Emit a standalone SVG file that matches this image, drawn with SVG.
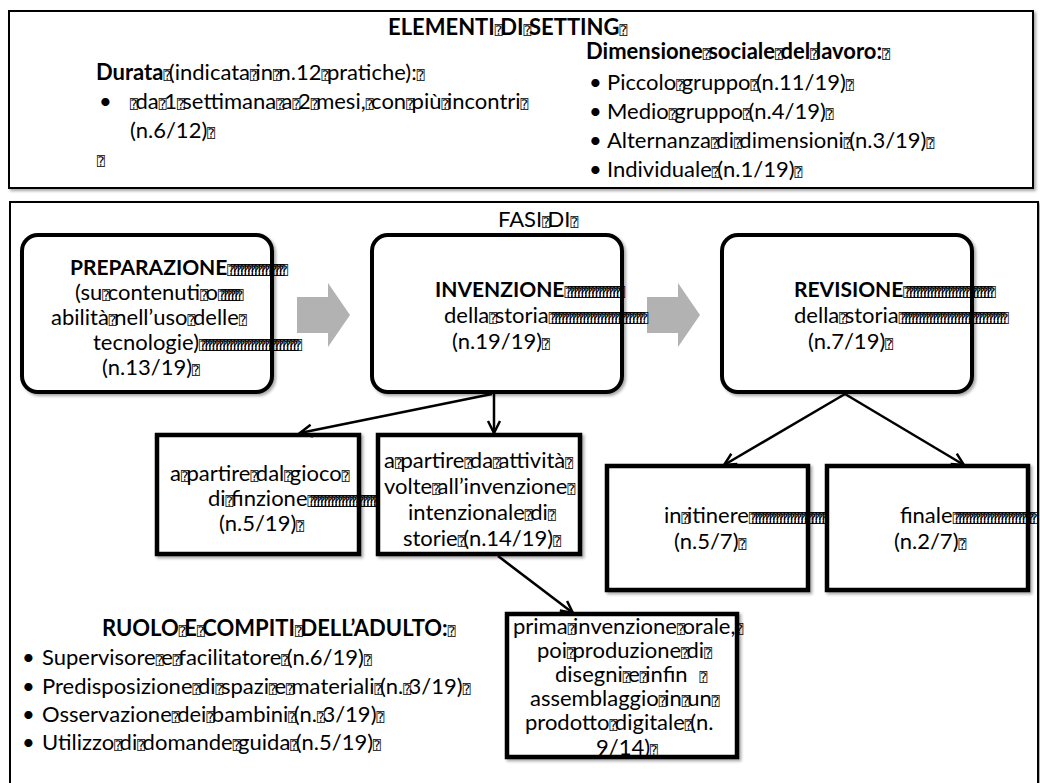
<svg xmlns="http://www.w3.org/2000/svg" width="1040" height="783" viewBox="0 0 1040 783">
<defs>
<style>
.t{font-family:Lato,"Open Sans",sans-serif;font-size:22px;fill:#000}
.b{font-weight:bold}
.nb{font-weight:bold;font-size:21px}
.q{font-family:"DejaVu Sans Mono",monospace;font-size:13px;letter-spacing:-2.4px;font-weight:normal}
.qr{font-family:"DejaVu Sans Mono",monospace;font-size:13px;letter-spacing:-4.3px;font-weight:normal}
.frame{fill:#fff;stroke:#000;stroke-width:2}
.rnode{fill:#fff;stroke:#000;stroke-width:4}
.snode{fill:#fff;stroke:#000;stroke-width:4.5}
.conn{stroke:#000;stroke-width:2.5;fill:none;marker-end:url(#ah)}
.garrow{fill:#b2b2b2}
</style>
<marker id="ah" markerUnits="userSpaceOnUse" markerWidth="16" markerHeight="16" viewBox="0 0 16 16" refX="14" refY="8" orient="auto">
<path d="M2,2 L14,8 L2,14" fill="none" stroke="#000" stroke-width="2.5"/>
</marker>
<filter id="sh" x="-10%" y="-10%" width="120%" height="120%">
<feDropShadow dx="2" dy="2" stdDeviation="1.5" flood-color="#000" flood-opacity="0.35"/>
</filter>
</defs>

<g id="setting">
<rect class="frame" x="9" y="11" width="1024" height="177" filter="url(#sh)"/>
<text class="t b" x="388" y="35">ELEMENTI<tspan class="q">⍰</tspan>DI<tspan class="q">⍰</tspan>SETTING<tspan class="q">⍰</tspan></text>
<text class="t" x="96" y="80"><tspan class="b">Durata</tspan><tspan class="q">⍰</tspan>(indicata<tspan class="q">⍰</tspan>in<tspan class="q">⍰</tspan>n.12<tspan class="q">⍰</tspan>pratiche):<tspan class="q">⍰</tspan></text>
<text class="t" x="99" y="109">•</text>
<text class="t" x="130" y="109"><tspan class="q">⍰</tspan>da<tspan class="q">⍰</tspan>1<tspan class="q">⍰</tspan>settimana<tspan class="q">⍰</tspan>a<tspan class="q">⍰</tspan>2<tspan class="q">⍰</tspan>mesi,<tspan class="q">⍰</tspan>con<tspan class="q">⍰</tspan>più<tspan class="q">⍰</tspan>incontri<tspan class="q">⍰</tspan></text>
<text class="t" x="130" y="138">(n.6/12)<tspan class="q">⍰</tspan></text>
<text class="t" x="97" y="166"><tspan class="q">⍰</tspan></text>
<text class="t b" x="586" y="59">Dimensione<tspan class="q">⍰</tspan>sociale<tspan class="q">⍰</tspan>del<tspan class="q">⍰</tspan>lavoro:<tspan class="q">⍰</tspan></text>
<text class="t" x="589" y="90">•</text>
<text class="t" x="607" y="90">Piccolo<tspan class="q">⍰</tspan>gruppo<tspan class="q">⍰</tspan>(n.11/19)<tspan class="q">⍰</tspan></text>
<text class="t" x="589" y="119">•</text>
<text class="t" x="607" y="119">Medio<tspan class="q">⍰</tspan>gruppo<tspan class="q">⍰</tspan>(n.4/19)<tspan class="q">⍰</tspan></text>
<text class="t" x="589" y="148">•</text>
<text class="t" x="607" y="148">Alternanza<tspan class="q">⍰</tspan>di<tspan class="q">⍰</tspan>dimensioni<tspan class="q">⍰</tspan>(n.3/19)<tspan class="q">⍰</tspan></text>
<text class="t" x="589" y="177">•</text>
<text class="t" x="607" y="177">Individuale<tspan class="q">⍰</tspan>(n.1/19)<tspan class="q">⍰</tspan></text>
</g>

<g id="fasi">
<rect class="frame" x="10" y="202" width="1028" height="590" filter="url(#sh)"/>
<text class="t" x="498" y="227">FASI<tspan class="q">⍰</tspan>DI<tspan class="q">⍰</tspan></text>
</g>

<g id="arrows-gray">
<path class="garrow" d="M297,297 H328 V283 L350,315 L328,347 V333 H297 Z"/>
<path class="garrow" d="M647,297 H678 V283 L700,315 L678,347 V333 H647 Z"/>
</g>

<g id="preparazione">
<rect class="rnode" x="22" y="235" width="250" height="157" rx="16" filter="url(#sh)"/>
<text class="t" x="70" y="275"><tspan class="nb">PREPARAZIONE</tspan><tspan class="qr">⍰⍰⍰⍰⍰⍰⍰⍰⍰⍰⍰⍰⍰⍰⍰⍰</tspan></text>
<text class="t" x="75" y="300">(su<tspan class="q">⍰</tspan>contenuti<tspan class="q">⍰</tspan>o<tspan class="qr">⍰⍰⍰⍰⍰⍰</tspan></text>
<text class="t" x="51" y="325">abilità<tspan class="q">⍰</tspan>nell’uso<tspan class="q">⍰</tspan>delle<tspan class="q">⍰</tspan></text>
<text class="t" x="93" y="350">tecnologie)<tspan class="qr">⍰⍰⍰⍰⍰⍰⍰⍰⍰⍰⍰⍰⍰⍰⍰⍰⍰⍰⍰⍰⍰⍰⍰⍰⍰⍰⍰⍰</tspan></text>
<text class="t" x="102" y="375">(n.13/19)<tspan class="q">⍰</tspan></text>
</g>

<g id="invenzione">
<rect class="rnode" x="372" y="235" width="250" height="157" rx="16" filter="url(#sh)"/>
<text class="t" x="435" y="297"><tspan class="nb">INVENZIONE</tspan><tspan class="qr">⍰⍰⍰⍰⍰⍰⍰⍰⍰⍰⍰⍰⍰⍰⍰⍰</tspan></text>
<text class="t" x="444" y="323">della<tspan class="q">⍰</tspan>storia<tspan class="qr">⍰⍰⍰⍰⍰⍰⍰⍰⍰⍰⍰⍰⍰⍰⍰⍰⍰⍰⍰⍰⍰⍰⍰⍰⍰⍰⍰</tspan></text>
<text class="t" x="452" y="349">(n.19/19)<tspan class="q">⍰</tspan></text>
</g>

<g id="revisione">
<rect class="rnode" x="722" y="235" width="250" height="157" rx="16" filter="url(#sh)"/>
<text class="t" x="794" y="297"><tspan class="nb">REVISIONE</tspan><tspan class="qr">⍰⍰⍰⍰⍰⍰⍰⍰⍰⍰⍰⍰⍰⍰⍰⍰⍰⍰⍰⍰⍰⍰⍰⍰⍰</tspan></text>
<text class="t" x="794" y="323">della<tspan class="q">⍰</tspan>storia<tspan class="qr">⍰⍰⍰⍰⍰⍰⍰⍰⍰⍰⍰⍰⍰⍰⍰⍰⍰⍰⍰⍰⍰⍰⍰⍰⍰⍰⍰⍰⍰⍰</tspan></text>
<text class="t" x="808" y="349">(n.7/19)<tspan class="q">⍰</tspan></text>
</g>

<g id="gioco">
<rect class="snode" x="157" y="435" width="202" height="119" filter="url(#sh)"/>
<text class="t" x="170" y="481">a<tspan class="q">⍰</tspan>partire<tspan class="q">⍰</tspan>dal<tspan class="q">⍰</tspan>gioco<tspan class="q">⍰</tspan></text>
<text class="t" x="208" y="506">di<tspan class="q">⍰</tspan>finzione<tspan class="qr">⍰⍰⍰⍰⍰⍰⍰⍰⍰⍰⍰⍰⍰⍰⍰⍰⍰⍰⍰⍰</tspan></text>
<text class="t" x="219" y="531">(n.5/19)<tspan class="q">⍰</tspan></text>
</g>

<g id="attivita">
<rect class="snode" x="378" y="435" width="202" height="119" filter="url(#sh)"/>
<text class="t" x="384" y="468">a<tspan class="q">⍰</tspan>partire<tspan class="q">⍰</tspan>da<tspan class="q">⍰</tspan>attività<tspan class="q">⍰</tspan></text>
<text class="t" x="384" y="494">volte<tspan class="q">⍰</tspan>all’invenzione<tspan class="q">⍰</tspan></text>
<text class="t" x="408" y="520">intenzionale<tspan class="q">⍰</tspan>di<tspan class="q">⍰</tspan></text>
<text class="t" x="403" y="546">storie<tspan class="q">⍰</tspan>(n.14/19)<tspan class="q">⍰</tspan></text>
</g>

<g id="itinere">
<rect class="snode" x="607" y="466" width="201" height="124" filter="url(#sh)"/>
<text class="t" x="664" y="523">in<tspan class="q">⍰</tspan>itinere<tspan class="qr">⍰⍰⍰⍰⍰⍰⍰⍰⍰⍰⍰⍰⍰⍰⍰⍰⍰⍰⍰⍰⍰⍰</tspan></text>
<text class="t" x="674" y="549">(n.5/7)<tspan class="q">⍰</tspan></text>
</g>

<g id="finale">
<rect class="snode" x="827" y="466" width="201" height="124" filter="url(#sh)"/>
<text class="t" x="900" y="523">finale<tspan class="qr">⍰⍰⍰⍰⍰⍰⍰⍰⍰⍰⍰⍰⍰⍰⍰⍰⍰⍰⍰⍰⍰⍰⍰</tspan></text>
<text class="t" x="894" y="549">(n.2/7)<tspan class="q">⍰</tspan></text>
</g>

<g id="prima">
<rect class="snode" x="507" y="614" width="230" height="143" filter="url(#sh)"/>
<text class="t" x="513" y="634">prima<tspan class="q">⍰</tspan>invenzione<tspan class="q">⍰</tspan>orale,<tspan class="q">⍰</tspan></text>
<text class="t" x="537" y="658">poi<tspan class="q">⍰</tspan>produzione<tspan class="q">⍰</tspan>di<tspan class="q">⍰</tspan></text>
<text class="t" x="555" y="682">disegni<tspan class="q">⍰</tspan>e<tspan class="q">⍰</tspan>infin<tspan dx="12" class="q">⍰</tspan></text>
<text class="t" x="530" y="706">assemblaggio<tspan class="q">⍰</tspan>in<tspan class="q">⍰</tspan>un<tspan class="q">⍰</tspan></text>
<text class="t" x="525" y="730">prodotto<tspan class="q">⍰</tspan>digitale<tspan class="q">⍰</tspan>(n.</text>
<text class="t" x="596" y="755">9/14)<tspan class="q">⍰</tspan></text>
</g>

<g id="ruolo">
<text class="t b" x="102" y="636">RUOLO<tspan class="q">⍰</tspan>E<tspan class="q">⍰</tspan>COMPITI<tspan class="q">⍰</tspan>DELL’ADULTO:<tspan class="q">⍰</tspan></text>
<text class="t" x="22" y="665">•</text>
<text class="t" x="42" y="665">Supervisore<tspan class="q">⍰</tspan>e<tspan class="q">⍰</tspan>facilitatore<tspan class="q">⍰</tspan>(n.6/19)<tspan class="q">⍰</tspan></text>
<text class="t" x="22" y="694">•</text>
<text class="t" x="42" y="694">Predisposizione<tspan class="q">⍰</tspan>di<tspan class="q">⍰</tspan>spazi<tspan class="q">⍰</tspan>e<tspan class="q">⍰</tspan>materiali<tspan class="q">⍰</tspan>(n.<tspan class="q">⍰</tspan>3/19)<tspan class="q">⍰</tspan></text>
<text class="t" x="22" y="722">•</text>
<text class="t" x="42" y="722">Osservazione<tspan class="q">⍰</tspan>dei<tspan class="q">⍰</tspan>bambini<tspan class="q">⍰</tspan>(n.<tspan class="q">⍰</tspan>3/19)<tspan class="q">⍰</tspan></text>
<text class="t" x="22" y="750">•</text>
<text class="t" x="42" y="750">Utilizzo<tspan class="q">⍰</tspan>di<tspan class="q">⍰</tspan>domande<tspan class="q">⍰</tspan>guida<tspan class="q">⍰</tspan>(n.5/19)<tspan class="q">⍰</tspan></text>
</g>

<g id="connectors">
<path class="conn" d="M492,394 L300,433"/>
<path class="conn" d="M494,394 L494,433"/>
<path class="conn" d="M845,394 L724,465"/>
<path class="conn" d="M845,394 L964,465"/>
<path class="conn" d="M498,556 L573,613"/>
</g>
</svg>
